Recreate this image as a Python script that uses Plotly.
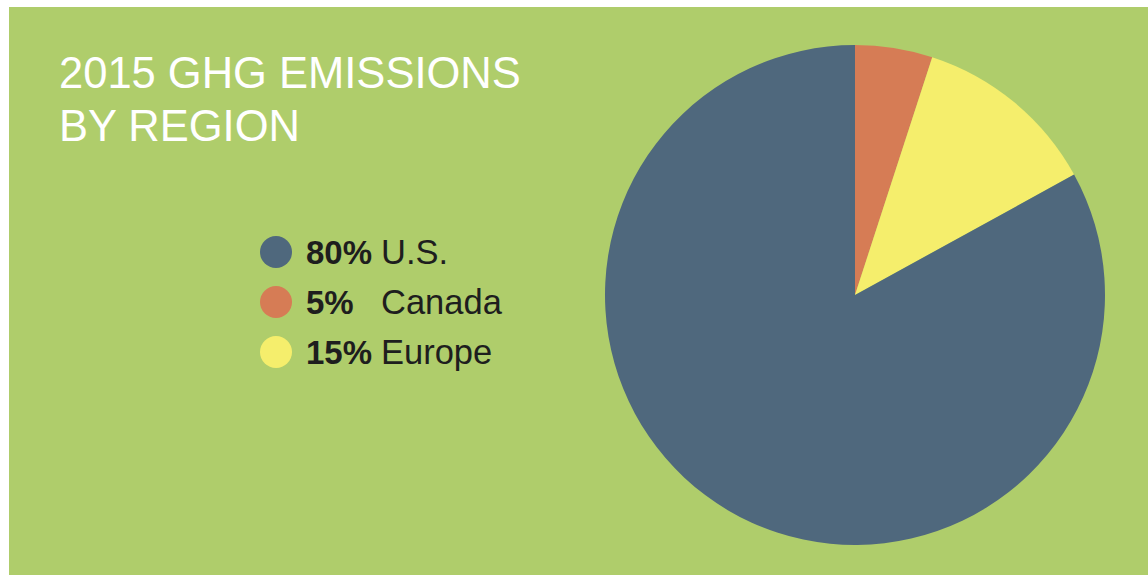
import plotly.graph_objects as go

W, H = 1148, 575

# Data
regions = ["Canada", "Europe", "U.S."]
slice_values = [5, 12, 83]          # as drawn in the pie
legend_regions = ["U.S.", "Canada", "Europe"]
legend_pct = ["80%", "5%", "15%"]   # as printed in the legend
colors = {"U.S.": "#4F687D", "Canada": "#D67C55", "Europe": "#F5EE6C"}

title_lines = ["2015 GHG EMISSIONS", "BY REGION"]

BG = "#AFCD6B"

def px(x):
    return x / W

def py(y):
    return 1 - y / H

fig = go.Figure()
fig.add_trace(go.Pie(
    labels=regions,
    values=slice_values,
    sort=False,
    direction="clockwise",
    rotation=0,
    textinfo="none",
    hoverinfo="label+percent",
    marker=dict(colors=[colors[r] for r in regions], line=dict(width=0)),
    domain=dict(x=[px(605), px(1105)], y=[py(545), py(45)]),
    showlegend=False,
))

shapes = [dict(type="rect", xref="paper", yref="paper",
               x0=px(9), x1=1, y0=0, y1=py(7),
               fillcolor=BG, line=dict(width=0), layer="below")]

annotations = []
for i, line in enumerate(title_lines):
    annotations.append(dict(
        text=line, xref="paper", yref="paper",
        x=px(57), y=py(73 + i * 53), xanchor="left", yanchor="middle",
        showarrow=False,
        font=dict(family="Liberation Sans, Arial, sans-serif", size=43.5, color="white"),
    ))

row_y = [252, 302, 352]
for i, (reg, pct) in enumerate(zip(legend_regions, legend_pct)):
    cy = row_y[i]
    shapes.append(dict(type="circle", xref="paper", yref="paper",
                       x0=px(260), x1=px(292), y0=py(cy + 16), y1=py(cy - 16),
                       fillcolor=colors[reg], line=dict(width=0)))
    annotations.append(dict(
        text="<b>" + pct + "</b>", xref="paper", yref="paper",
        x=px(304), y=py(cy), xanchor="left", yanchor="middle", showarrow=False,
        font=dict(family="Liberation Sans, Arial, sans-serif", size=33, color="#1E1E1E"),
    ))
    annotations.append(dict(
        text=reg, xref="paper", yref="paper",
        x=px(379), y=py(cy), xanchor="left", yanchor="middle", showarrow=False,
        font=dict(family="Liberation Sans, Arial, sans-serif", size=34.5, color="#1E1E1E"),
    ))

fig.update_layout(
    width=W, height=H,
    margin=dict(l=0, r=0, t=0, b=0),
    paper_bgcolor="white",
    plot_bgcolor="white",
    shapes=shapes,
    annotations=annotations,
    showlegend=False,
)

fig.write_html("out.html")
